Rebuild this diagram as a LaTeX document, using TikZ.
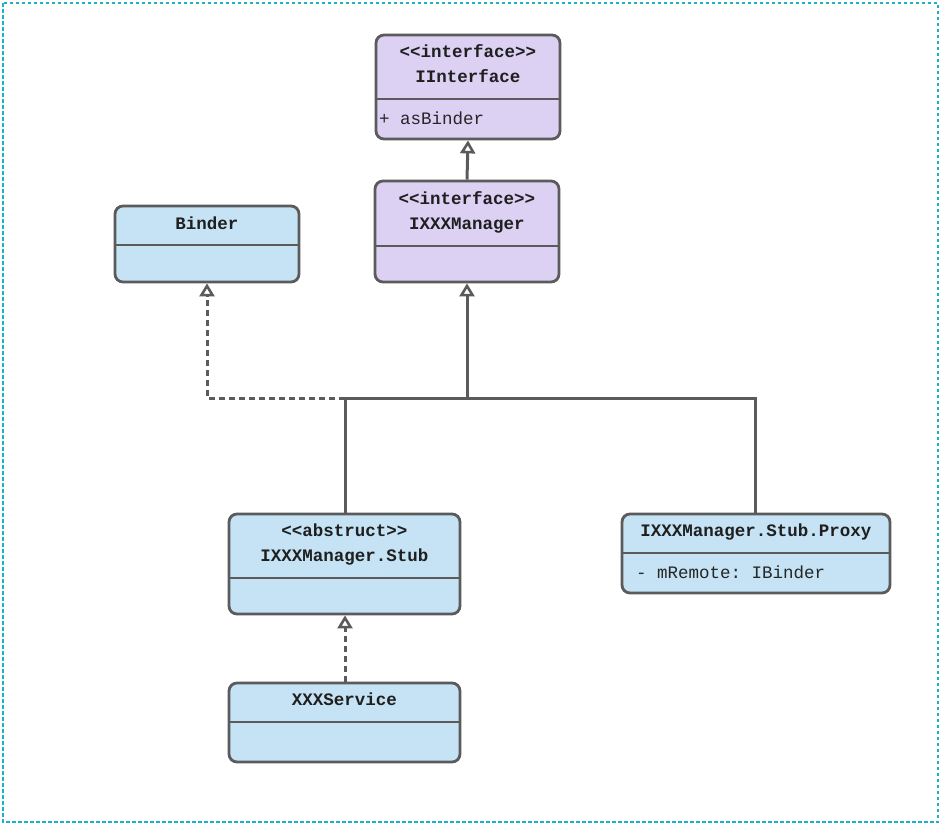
\documentclass[tikz,border=0pt]{standalone}
\usepackage{fontspec}
\setmonofont{Liberation Mono}
\usetikzlibrary{arrows.meta}
\definecolor{purp}{HTML}{DCD0F3}
\definecolor{lblue}{HTML}{C5E3F4}
\definecolor{edge}{HTML}{5B5B5B}
\definecolor{frame}{HTML}{1AB2C8}
\tikzset{
  umlbox/.style={draw=edge, line width=2.8pt, rounded corners=8pt, inner sep=0pt},
  divline/.style={draw=edge, line width=2.6pt},
  ttl/.style={font=\ttfamily\bfseries\fontsize{17.5}{20}\selectfont, text=black!88, inner sep=0pt, anchor=center, text height=15pt, text depth=3pt},
  attr/.style={font=\ttfamily\fontsize{17.5}{20}\selectfont, text=black!85, inner sep=0pt, anchor=west, text height=15pt, text depth=3pt},
  conn/.style={draw=edge, line width=3pt},
  dconn/.style={draw=edge, line width=3pt, dash pattern=on 6pt off 4pt},
  inh/.style={-{Triangle[open, length=13pt, width=15pt, line width=2.6pt]}},
}
\begin{document}
\begin{tikzpicture}[x=1pt, y=-1pt]
\useasboundingbox (0,0) rectangle (941,825);
\draw[frame, line width=1.3pt, dash pattern=on 3.5pt off 2.5pt] (3,3) rectangle (938,822);

% IInterface
\node[umlbox, fill=purp, minimum width=184pt, minimum height=104pt] (ii) at (468,87) {};
\draw[divline] (376,99) -- (560,99);
\node[ttl] (iiS) at (468,51) {<{}<interface>{}>};
\node[ttl] (iiN) at (468,76) {IInterface};
\node[attr] (iiA) at (379,118) {+ asBinder};

% IXXXManager
\node[umlbox, fill=purp, minimum width=184pt, minimum height=101pt] (im) at (467,231.5) {};
\draw[divline] (375,246) -- (559,246);
\node[ttl] (imS) at (467,198) {<{}<interface>{}>};
\node[ttl] (imN) at (467,223) {IXXXManager};

% Binder
\node[umlbox, fill=lblue, minimum width=184pt, minimum height=76pt] (bd) at (207,244) {};
\draw[divline] (115,245) -- (299,245);
\node[ttl] (bdN) at (207,223) {Binder};

% Stub
\node[umlbox, fill=lblue, minimum width=231pt, minimum height=100pt] (st) at (344.5,564) {};
\draw[divline] (229,578) -- (460,578);
\node[ttl] (stS) at (344.5,530) {<{}<abstruct>{}>};
\node[ttl] (stN) at (344.5,555) {IXXXManager.Stub};

% Proxy
\node[umlbox, fill=lblue, minimum width=268pt, minimum height=79pt] (px) at (756,553.5) {};
\draw[divline] (622,553) -- (890,553);
\node[ttl] (pxN) at (756,530) {IXXXManager.Stub.Proxy};
\node[attr] (pxA) at (636,572) {- mRemote: IBinder};

% XXXService
\node[umlbox, fill=lblue, minimum width=231pt, minimum height=79pt] (sv) at (344.5,722.5) {};
\draw[divline] (229,722) -- (460,722);
\node[ttl] (svN) at (344.5,699) {XXXService};

% junction coordinates
\coordinate (jS) at (345,398);
\coordinate (jM) at (467,398);
\coordinate (jP) at (755,398);
\coordinate (jB) at (207,398);

% connectors
\draw[conn, inh] (im.north) -- (ii.south);
\draw[dconn, inh] (jS) -- (jB) -- (bd.south);
\draw[conn] (st.north -| jS) -- (jS) -- (jP) -- (px.north -| jP);
\draw[conn, inh] (jM) -- (im.south);
\draw[dconn, inh] (sv.north -| jS) -- (st.south -| jS);
\end{tikzpicture}
\end{document}
